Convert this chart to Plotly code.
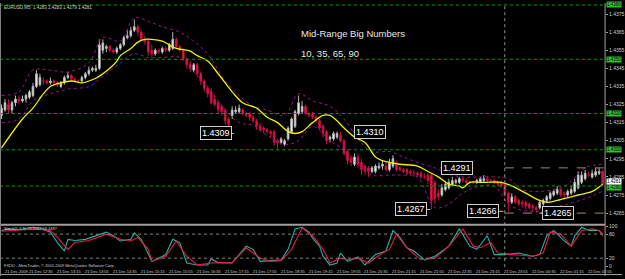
import plotly.graph_objects as go

# ---------------- data ----------------
bars = list(range(173))
open_ = [1.4319,1.4322,1.4325,1.4322,1.4326,1.4328,1.4327,1.4328,1.4329,1.4330,
 1.4335,1.4336,1.4338,1.4338,1.4337,1.4338,1.4337,1.4335,1.4337,1.4340,
 1.4341,1.4339,1.4338,1.4338,1.4340,1.4342,1.4344,1.4344,1.4345,1.4355,
 1.4356,1.4357,1.4355,1.4354,1.4356,1.4358,1.4362,1.4363,1.4366,1.4368,
 1.4365,1.4361,1.4360,1.4355,1.4353,1.4355,1.4354,1.4356,1.4355,1.4356,
 1.4361,1.4357,1.4355,1.4350,1.4347,1.4344,1.4347,1.4342,1.4338,1.4334,
 1.4332,1.4328,1.4326,1.4324,1.4322,1.4317,1.4319,1.4321,1.4321,1.4322,
 1.4320,1.4320,1.4318,1.4316,1.4313,1.4312,1.4311,1.4310,1.4310,1.4305,
 1.4304,1.4303,1.4306,1.4310,1.4313,1.4320,1.4321,1.4324,1.4320,1.4320,
 1.4318,1.4316,1.4313,1.4310,1.4306,1.4306,1.4307,1.4308,1.4305,1.4299,
 1.4295,1.4292,1.4296,1.4293,1.4291,1.4290,1.4288,1.4288,1.4290,1.4291,
 1.4291,1.4289,1.4291,1.4293,1.4290,1.4289,1.4289,1.4288,1.4287,1.4287,
 1.4287,1.4285,1.4286,1.4286,1.4282,1.4276,1.4275,1.4278,1.4279,1.4281,
 1.4282,1.4282,1.4284,1.4283,1.4282,1.4282,1.4282,1.4282,1.4283,1.4284,
 1.4283,1.4283,1.4282,1.4282,1.4281,1.4276,1.4271,1.4274,1.4272,1.4271,
 1.4271,1.4270,1.4269,1.4268,1.4268,1.4270,1.4272,1.4273,1.4275,1.4276,
 1.4278,1.4276,1.4275,1.4276,1.4277,1.4279,1.4282,1.4284,1.4286,1.4285,
 1.4286,1.4287,1.4288]
high = [1.4325,1.4328,1.4328,1.4327,1.4330,1.4330,1.4330,1.4331,1.4333,1.4337,
 1.4344,1.4342,1.4340,1.4339,1.4340,1.4339,1.4338,1.4338,1.4341,1.4343,
 1.4342,1.4340,1.4339,1.4341,1.4343,1.4346,1.4346,1.4347,1.4361,1.4361,
 1.4358,1.4358,1.4356,1.4357,1.4359,1.4363,1.4366,1.4368,1.4372,1.4369,
 1.4366,1.4363,1.4361,1.4358,1.4356,1.4356,1.4357,1.4357,1.4359,1.4365,
 1.4362,1.4358,1.4356,1.4351,1.4349,1.4348,1.4348,1.4343,1.4339,1.4335,
 1.4334,1.4330,1.4327,1.4325,1.4323,1.4318,1.4324,1.4324,1.4325,1.4323,
 1.4321,1.4321,1.4319,1.4317,1.4315,1.4313,1.4312,1.4311,1.4311,1.4306,
 1.4307,1.4306,1.4313,1.4318,1.4322,1.4330,1.4327,1.4325,1.4321,1.4321,
 1.4319,1.4317,1.4314,1.4311,1.4308,1.4310,1.4310,1.4310,1.4306,1.4300,
 1.4297,1.4298,1.4298,1.4295,1.4292,1.4291,1.4291,1.4292,1.4293,1.4294,
 1.4293,1.4295,1.4297,1.4294,1.4291,1.4290,1.4290,1.4289,1.4289,1.4288,
 1.4288,1.4287,1.4287,1.4287,1.4283,1.4278,1.4281,1.4282,1.4284,1.4285,
 1.4284,1.4285,1.4285,1.4284,1.4283,1.4283,1.4284,1.4285,1.4286,1.4285,
 1.4284,1.4284,1.4283,1.4283,1.4282,1.4277,1.4276,1.4275,1.4273,1.4272,
 1.4272,1.4271,1.4270,1.4269,1.4272,1.4273,1.4275,1.4277,1.4278,1.4280,
 1.4279,1.4277,1.4278,1.4280,1.4284,1.4288,1.4288,1.4289,1.4288,1.4289,
 1.4290,1.4290,1.4289]
low = [1.4317,1.4321,1.4320,1.4320,1.4324,1.4325,1.4326,1.4326,1.4328,1.4329,
 1.4334,1.4335,1.4336,1.4336,1.4336,1.4335,1.4335,1.4334,1.4336,1.4339,
 1.4338,1.4337,1.4337,1.4337,1.4339,1.4341,1.4343,1.4343,1.4344,1.4353,
 1.4354,1.4354,1.4353,1.4353,1.4355,1.4357,1.4361,1.4362,1.4365,1.4363,
 1.4360,1.4358,1.4352,1.4351,1.4352,1.4353,1.4353,1.4354,1.4354,1.4355,
 1.4356,1.4354,1.4349,1.4345,1.4343,1.4343,1.4340,1.4336,1.4332,1.4329,
 1.4325,1.4324,1.4320,1.4319,1.4314,1.4309,1.4317,1.4320,1.4320,1.4319,
 1.4318,1.4316,1.4315,1.4311,1.4310,1.4309,1.4309,1.4307,1.4302,1.4300,
 1.4303,1.4302,1.4305,1.4309,1.4312,1.4319,1.4320,1.4319,1.4318,1.4317,
 1.4315,1.4311,1.4307,1.4303,1.4304,1.4305,1.4306,1.4304,1.4297,1.4292,
 1.4291,1.4291,1.4290,1.4286,1.4286,1.4285,1.4287,1.4287,1.4289,1.4289,
 1.4288,1.4288,1.4290,1.4288,1.4288,1.4287,1.4286,1.4286,1.4285,1.4285,
 1.4284,1.4284,1.4281,1.4267,1.4270,1.4272,1.4274,1.4277,1.4278,1.4280,
 1.4281,1.4281,1.4282,1.4281,1.4281,1.4281,1.4281,1.4282,1.4282,1.4282,
 1.4282,1.4281,1.4280,1.4279,1.4274,1.4266,1.4270,1.4270,1.4269,1.4268,
 1.4267,1.4267,1.4266,1.4265,1.4267,1.4269,1.4271,1.4272,1.4274,1.4275,
 1.4274,1.4273,1.4274,1.4275,1.4276,1.4278,1.4281,1.4283,1.4285,1.4284,
 1.4285,1.4286,1.4280]
close = [1.4323,1.4326,1.4322,1.4326,1.4328,1.4327,1.4328,1.4330,1.4332,1.4335,
 1.4342,1.4340,1.4338,1.4337,1.4338,1.4337,1.4336,1.4337,1.4340,1.4341,
 1.4339,1.4338,1.4338,1.4340,1.4342,1.4344,1.4345,1.4345,1.4358,1.4359,
 1.4357,1.4355,1.4354,1.4356,1.4358,1.4362,1.4363,1.4366,1.4368,1.4365,
 1.4361,1.4360,1.4354,1.4353,1.4355,1.4354,1.4356,1.4355,1.4358,1.4361,
 1.4357,1.4355,1.4350,1.4347,1.4345,1.4347,1.4342,1.4338,1.4334,1.4331,
 1.4326,1.4325,1.4322,1.4321,1.4316,1.4314,1.4322,1.4322,1.4323,1.4320,
 1.4319,1.4318,1.4316,1.4313,1.4311,1.4311,1.4310,1.4309,1.4304,1.4304,
 1.4306,1.4305,1.4312,1.4317,1.4321,1.4326,1.4324,1.4320,1.4319,1.4318,
 1.4316,1.4312,1.4309,1.4305,1.4307,1.4309,1.4309,1.4305,1.4298,1.4294,
 1.4293,1.4296,1.4292,1.4289,1.4288,1.4288,1.4290,1.4291,1.4291,1.4292,
 1.4289,1.4293,1.4295,1.4289,1.4289,1.4288,1.4287,1.4287,1.4287,1.4286,
 1.4285,1.4285,1.4283,1.4272,1.4273,1.4274,1.4279,1.4281,1.4282,1.4283,
 1.4283,1.4284,1.4283,1.4282,1.4282,1.4282,1.4283,1.4284,1.4284,1.4283,
 1.4283,1.4282,1.4281,1.4280,1.4275,1.4271,1.4274,1.4271,1.4270,1.4270,
 1.4269,1.4268,1.4268,1.4267,1.4271,1.4272,1.4274,1.4276,1.4277,1.4278,
 1.4275,1.4275,1.4277,1.4278,1.4282,1.4286,1.4286,1.4287,1.4286,1.4287,
 1.4288,1.4288,1.4281]

# yellow moving average, read at sample bars
ma_bar = [0,6,9,12,14,17,20,23,25,27,29,31,33,34,37,39,41,43,46,48,50,53,54,56,59,62,66,69,73,76,79,82,84,86,89,92,94,96,98,101,104,107,109,111,114,119,122,125,128,131,132,134,138,143,146,150,154,156,159,163,165,169,172]
ma_val = [1.4301,1.4317,1.4323,1.4331,1.4335,1.4337,1.4338,1.4337,1.4338,1.43395,1.4342,1.4345,1.4349,1.4352,1.4356,1.43595,1.4361,1.4361,1.4360,1.4358,1.4356,1.4355,1.43545,1.4352,1.4349,1.4342,1.4332,1.4326,1.4323,1.4318,1.4315,1.4310,1.4309,1.4310,1.4315,1.4319,1.4319,1.4316,1.4312,1.4307,1.4304,1.4296,1.4294,1.4293,1.4292,1.4291,1.4288,1.4285,1.4281,1.4280,1.4279,1.4282,1.4282,1.4282,1.4280,1.4276,1.4272,1.4271,1.4272,1.4274,1.4275,1.4277,1.4281]

# dotted band lines
band_bar = [0,5,9,14,19,25,29,34,38,42,46,51,55,59,64,68,72,76,81,85,89,94,98,102,106,111,115,119,124,128,132,136,141,145,149,154,158,162,167,172]
band_up = [1.4330,1.4332,1.4344,1.4344,1.4343,1.4348,1.4362,1.4360,1.4373,1.4371,1.4368,1.4365,1.4360,1.4353,1.4338,1.4330,1.4324,1.4322,1.4319,1.4331,1.4327,1.4324,1.4317,1.4306,1.4299,1.4299,1.4296,1.4293,1.4290,1.42865,1.4285,1.4285,1.4285,1.4284,1.4278,1.4277,1.4278,1.4281,1.4290,1.4292]
band_lo = [1.4315,1.4317,1.4327,1.4331,1.43335,1.4335,1.43405,1.4348,1.4353,1.4351,1.4351,1.4351,1.4343,1.4335,1.4322,1.4315,1.43135,1.4308,1.4303,1.4305,1.4313,1.4305,1.4300,1.4292,1.4286,1.4286,1.4286,1.4285,1.4268,1.4270,1.4276,1.42795,1.4280,1.4270,1.42665,1.4266,1.4268,1.4270,1.4273,1.4277]

# stochastic (5,3,3)
k_bar = [0,2,5,9,11,14,16,18,19,21,24,27,30,32,34,37,38,40,42,43,45,47,49,51,53,56,59,60,62,66,68,70,72,74,77,80,82,84,86,88,89,91,92,94,96,97,99,102,104,107,110,112,114,116,118,121,124,128,131,134,136,139,141,144,148,152,154,156,158,161,163,164,166,168,171,172]
k_val = [89,93,91,97,95,85,59,38,67,64,67,76,85,76,63,67,83,67,33,12,20,29,67,59,8,3,3,18,9,8,29,50,42,12,14,16,42,93,97,85,70,50,25,3,8,33,12,23,3,29,38,89,72,46,38,16,25,50,93,50,42,76,29,29,33,25,29,76,89,63,50,76,97,89,89,80]
d_bar = [0,4,9,14,16,19,21,25,30,34,37,39,42,43,47,50,53,56,60,66,70,74,77,80,83,86,89,92,94,97,99,102,105,109,111,113,116,120,124,128,132,135,137,140,142,146,152,155,157,160,163,166,169,171,172]
d_val = [87,89,93,89,72,42,59,64,80,67,63,72,42,12,25,63,25,3,8,9,46,20,12,14,42,95,76,42,8,20,16,20,8,33,42,80,46,16,20,50,93,50,46,59,33,29,25,33,85,80,50,89,93,89,76]

# axis labels
price_ticks = [1.4265,1.4275,1.4285,1.4295,1.4305,1.4315,1.4325,1.4335,1.4345,1.4355,1.4365,1.4375]
level_prices = [1.4380,1.4350,1.4320,1.4300,1.4280]
time_bars = [0,7,15,23,31,39,47,55,63,71,79,87,95,103,111,119,127,135,143,151,159,167]
time_labels = ["21 Dec 2009","21 Dec 12:35","21 Dec 13:15","21 Dec 13:55","21 Dec 14:35","21 Dec 15:15",
               "21 Dec 15:55","21 Dec 16:35","21 Dec 17:15","21 Dec 17:55","21 Dec 18:35","21 Dec 19:15",
               "21 Dec 19:55","21 Dec 20:35","21 Dec 21:15","21 Dec 21:55","21 Dec 22:35","21 Dec 23:15",
               "21 Dec 23:55","22 Dec 00:35","22 Dec 01:15","22 Dec 01:55"]
swing_text = ["1.4309","1.4310","1.4291","1.4267","1.4266","1.4265"]
swing_price = [1.4309,1.4310,1.4290,1.4267,1.4266,1.4265]
swing_bar = [61.3,105.4,130.3,117.1,137.9,159.3]
swing_stub = [(65.3,66.5),(100.7,101.6),(125.6,126.4),(121.3,122.7),(141.6,143.6),(153.9,155.6)]
day_sep_bar = 144
day_high, day_low = 1.4290, 1.4265
last_price = 1.4281

# ---------------- figure ----------------
W, H = 625, 279
XR = [-0.43, 172.7]
XD = [0, 608/625]
fig = go.Figure()

fig.add_trace(go.Candlestick(
    x=bars, open=open_, high=high, low=low, close=close,
    increasing=dict(line=dict(color="#b8b8b8", width=1), fillcolor="#ffffff"),
    decreasing=dict(line=dict(color="#c8103c", width=1), fillcolor="#f8145a"),
    whiskerwidth=0, xaxis="x", yaxis="y", showlegend=False, hoverinfo="skip"))

fig.add_trace(go.Scatter(x=band_bar, y=band_up, mode="lines", line=dict(color="#98168a", width=1, dash="dot"),
                         xaxis="x", yaxis="y", showlegend=False, line_shape="spline"))
fig.add_trace(go.Scatter(x=band_bar, y=band_lo, mode="lines", line=dict(color="#98168a", width=1, dash="dot"),
                         xaxis="x", yaxis="y", showlegend=False, line_shape="spline"))
fig.add_trace(go.Scatter(x=ma_bar, y=ma_val, mode="lines", line=dict(color="#f0f000", width=1.3),
                         xaxis="x", yaxis="y", showlegend=False, line_shape="spline"))

fig.add_trace(go.Scatter(x=k_bar, y=k_val, mode="lines", line=dict(color="#20b2aa", width=1.1),
                         xaxis="x2", yaxis="y2", showlegend=False))
fig.add_trace(go.Scatter(x=d_bar, y=d_val, mode="lines", line=dict(color="#f01840", width=1.1),
                         xaxis="x2", yaxis="y2", showlegend=False))

axis_font = dict(family="Liberation Sans, Arial", size=5, color="#d0d0d0")
fig.update_layout(
    width=W, height=H, margin=dict(l=0, r=0, t=0, b=0),
    paper_bgcolor="#000000", plot_bgcolor="#000000",
    xaxis=dict(domain=XD, range=XR, showticklabels=False, showgrid=False, zeroline=False,
               rangeslider=dict(visible=False), anchor="y", fixedrange=True),
    xaxis2=dict(domain=XD, range=XR, showticklabels=False, showgrid=False, zeroline=False, anchor="y2"),
    yaxis=dict(domain=[1-226/279, 1], range=[1.42589, 1.43811], side="right", showgrid=False,
               zeroline=False, tickvals=price_ticks, ticktext=["%.4f" % v for v in price_ticks],
               tickfont=axis_font, ticks="outside", ticklen=2, tickcolor="#a0a0a0", anchor="x"),
    yaxis2=dict(domain=[1-269/279, 1-228/279], range=[0, 100], side="right", showgrid=False,
                zeroline=False, tickvals=[0, 20, 80, 100], ticktext=["0", "20", "80", "100"],
                tickfont=axis_font, ticks="outside", ticklen=2, tickcolor="#a0a0a0", anchor="x2"),
    boxgap=0.35,
)

shapes = []
for p in level_prices:
    shapes.append(dict(type="line", xref="paper", yref="y", x0=0, x1=XD[1], y0=p, y1=p,
                       line=dict(color="#00a000", width=1, dash="dot")))
for p in [20, 80]:
    shapes.append(dict(type="line", xref="paper", yref="y2", x0=0, x1=XD[1], y0=p, y1=p,
                       line=dict(color="#808080", width=1, dash="dot")))
for p in [day_high, day_low]:
    shapes.append(dict(type="line", xref="x", yref="y", x0=day_sep_bar, x1=XR[1], y0=p, y1=p,
                       line=dict(color="#a08878", width=1, dash="dash")))
shapes.append(dict(type="line", xref="x", yref="paper", x0=day_sep_bar, x1=day_sep_bar, y0=1-270/279, y1=1,
                   line=dict(color="#909090", width=1, dash="dot")))
# frame lines
shapes.append(dict(type="line", xref="paper", yref="paper", x0=0, x1=XD[1], y0=1-226.5/279, y1=1-226.5/279,
                   line=dict(color="#a0a0a0", width=2)))
shapes.append(dict(type="line", xref="paper", yref="paper", x0=XD[1], x1=XD[1], y0=0, y1=1,
                   line=dict(color="#a0a0a0", width=1)))
shapes.append(dict(type="line", xref="paper", yref="paper", x0=0, x1=1, y0=1.5/279, y1=1.5/279,
                   line=dict(color="#a0a0a0", width=1)))
shapes.append(dict(type="line", xref="paper", yref="paper", x0=0.5/625, x1=0.5/625, y0=0, y1=1,
                   line=dict(color="#808080", width=1)))
for (a, b), p in zip(swing_stub, swing_price):
    shapes.append(dict(type="line", xref="x", yref="y", x0=a, x1=b, y0=p, y1=p,
                       line=dict(color="#c0c0c0", width=1)))
fig.update_layout(shapes=shapes)

ann = []
for t, b, p in zip(swing_text, swing_bar, swing_price):
    ann.append(dict(text=t, x=b, y=p, xref="x", yref="y", showarrow=False,
                    font=dict(family="Liberation Sans, Arial", size=9, color="#ffffff"),
                    bgcolor="#000000", bordercolor="#d0d0d0", borderwidth=1, borderpad=1))
for p in level_prices:
    ann.append(dict(text="%.4f" % p, x=609/625, y=p, xref="paper", yref="y", xanchor="left",
                    yshift=(-2 if p == 1.4280 else 0),
                    showarrow=False, font=dict(family="Liberation Sans, Arial", size=4.5, color="#000000"),
                    bgcolor="#30c030", borderpad=0))
ann.append(dict(text="%.4f" % last_price, x=609/625, y=last_price, xref="paper", yref="y", xanchor="left",
                yshift=3, showarrow=False, font=dict(family="Liberation Sans, Arial", size=4.5, color="#000000"),
                bgcolor="#ffffff", borderpad=0))
for b, t in zip(time_bars, time_labels):
    ann.append(dict(text=t, x=b, y=1-274/279, xref="x2", yref="paper", xanchor="left", yanchor="middle",
                    xshift=1, showarrow=False, font=dict(family="Liberation Sans, Arial", size=4, color="#d0d0d0")))
ann.append(dict(text="EURUSD,M5  1.4283 1.4283 1.4279 1.4281", x=2/625, y=1-5/279, xref="paper", yref="paper",
                xanchor="left", yanchor="middle", showarrow=False,
                font=dict(family="Liberation Sans, Arial", size=4.5, color="#d0d0d0")))
ann.append(dict(text="Stoch(5,3,3) 79.1067 68.4487", x=2/625, y=1-230.5/279, xref="paper", yref="paper",
                xanchor="left", yanchor="middle", showarrow=False,
                font=dict(family="Liberation Sans, Arial", size=4, color="#d0d0d0")))
ann.append(dict(text="FXDD - MetaTrader, © 2001-2009 MetaQuotes Software Corp.", x=2/625, y=1-268/279,
                xref="paper", yref="paper", xanchor="left", yanchor="middle", showarrow=False,
                font=dict(family="Liberation Sans, Arial", size=4, color="#d0d0d0")))
ann.append(dict(text="Mid-Range Big Numbers", x=300/625, y=1-31/279, xref="paper", yref="paper",
                xanchor="left", yanchor="middle", showarrow=False,
                font=dict(family="Comic Sans MS, Liberation Sans, Arial", size=9.5, color="#e8e8e8")))
ann.append(dict(text="10, 35, 65, 90", x=300/625, y=1-52/279, xref="paper", yref="paper",
                xanchor="left", yanchor="middle", showarrow=False,
                font=dict(family="Comic Sans MS, Liberation Sans, Arial", size=9.5, color="#e8e8e8")))
fig.update_layout(annotations=ann)

fig.write_html("out.html")
